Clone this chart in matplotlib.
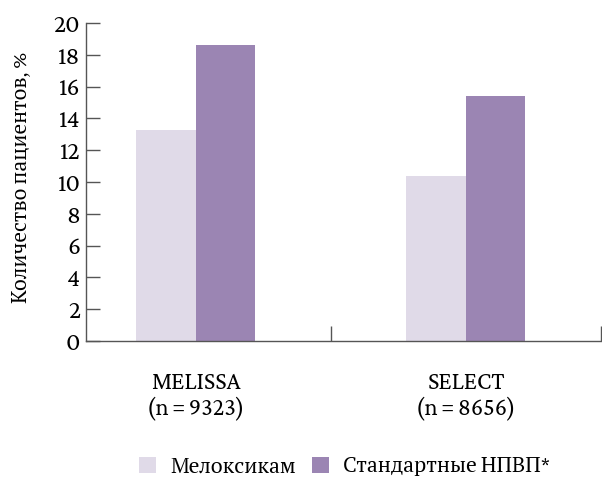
import matplotlib
matplotlib.use("Agg")
import matplotlib.pyplot as plt
from matplotlib.patches import Patch
import numpy as np

FAMILY = ['Crimson Pro', 'PT Serif', 'Liberation Serif', 'DejaVu Serif']
plt.rcParams['font.family'] = FAMILY

studies = ["MELISSA", "SELECT"]
sample_sizes = ["9323", "8656"]
meloxicam = [13.3, 10.4]
standard_nsaids = [18.6, 15.4]
series_names = ["Мелоксикам", "Стандартные НПВП*"]
y_ticks = [0, 2, 4, 6, 8, 10, 12, 14, 16, 18, 20]

light = "#e0dae8"
dark = "#9b85b3"
axis_col = "#555555"

fig = plt.figure(figsize=(6.02, 4.78), dpi=100)
ax = fig.add_axes([86/602, 1 - 341/478, 1 - 86/602, (341 - 23)/478])

x = np.arange(len(studies))
w = 0.22
ax.bar(x - w/2, meloxicam, width=w, color=light, zorder=1)
ax.bar(x + w/2, standard_nsaids, width=w, color=dark, zorder=1)

ax.set_ylim(0, 20)
ax.set_xlim(-0.405, 1.503)
ax.set_yticks(y_ticks)
ax.set_yticklabels([str(v) for v in y_ticks], fontsize=18.5, family=FAMILY)
ax.set_xticks([0.5, 1.5])
ax.set_xticklabels([])
ax.tick_params(axis='y', direction='in', length=10, width=1, color=axis_col, pad=4)
ax.tick_params(axis='x', direction='in', length=11, width=1, color=axis_col)

for s in ["top", "right"]:
    ax.spines[s].set_visible(False)
for s in ["left", "bottom"]:
    ax.spines[s].set_color(axis_col)
    ax.spines[s].set_linewidth(1)
    ax.spines[s].set_zorder(3)

for xi, name, n in zip(x, studies, sample_sizes):
    ax.annotate(f"{name}\n(n\u2009=\u2009{n})", xy=(xi, 0), xycoords=('data', 'axes fraction'),
                xytext=(0, -22), textcoords='offset points', ha='center', va='top',
                fontsize=17.5, linespacing=1.12, family=FAMILY)

ax.set_ylabel("Количество пациентов, %", fontsize=15.3, family=FAMILY)
ax.yaxis.set_label_coords(-0.106, 0.515)

handles = [Patch(facecolor=light, edgecolor='none'), Patch(facecolor=dark, edgecolor='none')]
fig.legend(handles, series_names, loc='center', bbox_to_anchor=(0.572, 1 - 467/478),
           ncol=2, frameon=False, prop={'family': FAMILY, 'size': 15.5},
           handlelength=0.8, handleheight=0.8, handletextpad=0.65, columnspacing=0.75)

fig.savefig("out.png", dpi=100)
